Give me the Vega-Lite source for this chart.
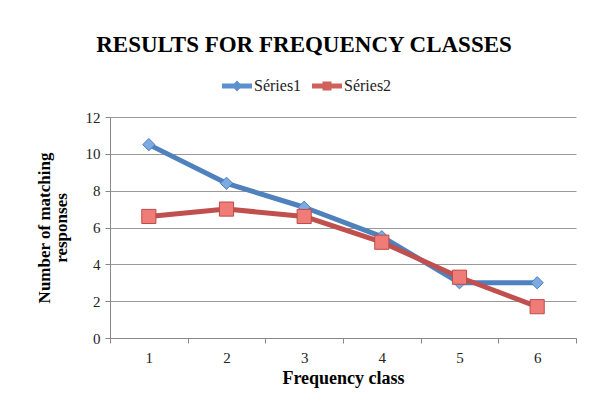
{
  "$schema": "https://vega.github.io/schema/vega-lite/v6.json",
  "width": 466,
  "height": 221,
  "autosize": {"type": "none"},
  "padding": {"left": 110, "top": 117, "right": 13, "bottom": 68},
  "background": "white",
  "title": {
    "text": "RESULTS FOR FREQUENCY CLASSES",
    "font": "Liberation Serif",
    "fontSize": 23,
    "fontWeight": "bold",
    "color": "#000000",
    "anchor": "middle",
    "dx": -39,
    "offset": 14
  },
  "config": {
    "view": {"stroke": null},
    "font": "Liberation Serif"
  },
  "data": {
    "values": [
      {"class": "1", "series": "Séries1", "value": 10.5},
      {"class": "2", "series": "Séries1", "value": 8.4},
      {"class": "3", "series": "Séries1", "value": 7.1},
      {"class": "4", "series": "Séries1", "value": 5.5},
      {"class": "5", "series": "Séries1", "value": 3.0},
      {"class": "6", "series": "Séries1", "value": 3.0},
      {"class": "1", "series": "Séries2", "value": 6.6},
      {"class": "2", "series": "Séries2", "value": 7.0},
      {"class": "3", "series": "Séries2", "value": 6.6},
      {"class": "4", "series": "Séries2", "value": 5.2},
      {"class": "5", "series": "Séries2", "value": 3.3},
      {"class": "6", "series": "Séries2", "value": 1.7}
    ]
  },
  "encoding": {
    "x": {
      "field": "class",
      "type": "ordinal",
      "scale": {"type": "band", "paddingInner": 0, "paddingOuter": 0},
      "axis": {
        "title": "Frequency class",
        "titleFont": "Liberation Serif",
        "titleFontSize": 18,
        "titleFontWeight": "bold",
        "titleColor": "#000000",
        "titlePadding": 4,
        "labelAngle": 0,
        "labelFont": "Liberation Serif",
        "labelFontSize": 15,
        "labelColor": "#222222",
        "labelPadding": 7,
        "tickBand": "extent",
        "tickSize": 5,
        "tickColor": "#888888",
        "domainColor": "#888888",
        "grid": false
      }
    },
    "y": {
      "field": "value",
      "type": "quantitative",
      "scale": {"domain": [0, 12]},
      "axis": {
        "values": [0, 2, 4, 6, 8, 10, 12],
        "title": ["Number of matching", "responses"],
        "titleFont": "Liberation Serif",
        "titleFontSize": 17,
        "titleFontWeight": "bold",
        "titleColor": "#000000",
        "titleLineHeight": 17,
        "titlePadding": 15,
        "labelFont": "Liberation Serif",
        "labelFontSize": 15,
        "labelColor": "#222222",
        "labelPadding": 5,
        "tickSize": 5,
        "tickColor": "#888888",
        "domainColor": "#888888",
        "grid": true,
        "gridColor": "#999999",
        "gridWidth": 1
      }
    }
  },
  "layer": [
    {
      "mark": {"type": "line", "strokeWidth": 5, "strokeCap": "butt", "strokeJoin": "round"},
      "encoding": {
        "color": {
          "field": "series",
          "type": "nominal",
          "scale": {"domain": ["Séries1", "Séries2"], "range": ["#4F81BD", "#C0504D"]},
          "legend": {
            "orient": "none",
            "legendX": 112,
            "legendY": -46,
            "direction": "horizontal",
            "title": null,
            "labelFont": "Liberation Serif",
            "labelFontSize": 16,
            "labelColor": "#222222",
            "labelOffset": 2,
            "symbolSize": 900,
            "columnPadding": 10,
            "encode": {
              "symbols": {
                "update": {
                  "shape": {"signal": "datum.value === 'Séries1' ? 'M-1,-0.16L1,-0.16L1,0.16L-1,0.16Z M0,-0.36L0.36,0L0,0.36L-0.36,0Z' : 'M-1,-0.16L1,-0.16L1,0.16L-1,0.16Z M-0.3,-0.3L0.3,-0.3L0.3,0.3L-0.3,0.3Z'"},
                  "fill": {"signal": "datum.value === 'Séries1' ? '#5B8FCF' : '#D0605C'"},
                  "stroke": {"value": "transparent"},
                  "strokeWidth": {"value": 0},
                  "opacity": {"value": 1}
                }
              }
            }
          }
        }
      }
    },
    {
      "transform": [{"filter": "datum.series === 'Séries1'"}],
      "mark": {"type": "point", "shape": "diamond", "size": 150, "filled": true, "fill": "#7DAAE2", "stroke": "#4A7EBB", "strokeWidth": 1, "opacity": 1}
    },
    {
      "transform": [{"filter": "datum.series === 'Séries2'"}],
      "mark": {"type": "point", "shape": "square", "size": 200, "filled": true, "fill": "#F07C77", "stroke": "#BE4B48", "strokeWidth": 1, "opacity": 1}
    }
  ]
}
